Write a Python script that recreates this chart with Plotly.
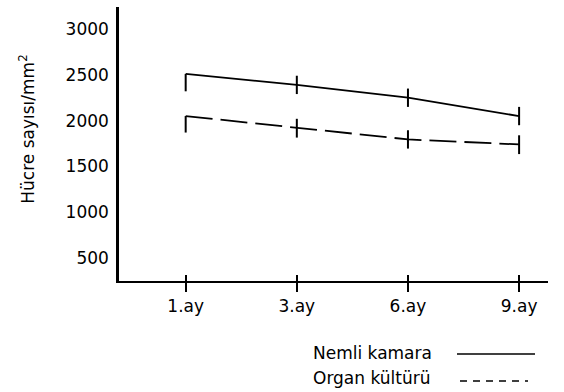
import plotly.graph_objects as go

months = ["1.ay", "3.ay", "6.ay", "9.ay"]
nemli = [2510, 2390, 2250, 2050]
nemli_plus = [0, 100, 100, 100]
nemli_minus = [190, 100, 100, 100]
organ = [2050, 1920, 1795, 1740]
organ_plus = [0, 100, 100, 100]
organ_minus = [180, 105, 100, 105]
y_ticks = [500, 1000, 1500, 2000, 2500, 3000]

FONT = "DejaVu Sans"
FS = 17
fig = go.Figure()
fig.add_trace(go.Scatter(
    x=months, y=nemli, mode="lines", name="Nemli kamara",
    line=dict(color="black", width=1.8),
    error_y=dict(type="data", symmetric=False, array=nemli_plus,
                 arrayminus=nemli_minus, color="black", thickness=2, width=0),
))
fig.add_trace(go.Scatter(
    x=months, y=organ, mode="lines", name="Organ kültürü",
    line=dict(color="black", width=1.8, dash="27px,8px"),
    error_y=dict(type="data", symmetric=False, array=organ_plus,
                 arrayminus=organ_minus, color="black", thickness=2, width=0),
))

fig.update_layout(
    width=564, height=392,
    margin=dict(l=119, r=16, t=7, b=111),
    paper_bgcolor="white", plot_bgcolor="white",
    showlegend=False,
    font=dict(family=FONT, size=FS, color="black"),
    xaxis=dict(
        type="category", range=[-0.6, 3.26],
        showline=True, linecolor="black", linewidth=2,
        ticks="outside", ticklen=9, tickwidth=2, tickcolor="black",
        showgrid=False, zeroline=False,
        tickfont=dict(family=FONT, size=FS),
    ),
    xaxis2=dict(
        type="category", range=[-0.6, 3.26], overlaying="x", matches="x",
        ticks="inside", ticklen=6, tickwidth=2, tickcolor="black",
        showticklabels=False, showgrid=False, showline=False, zeroline=False,
        anchor="y",
    ),
    yaxis=dict(
        range=[250, 3240], tickvals=y_ticks,
        showline=True, linecolor="black", linewidth=2.5,
        ticks="", showgrid=False, zeroline=False,
        tickfont=dict(family=FONT, size=FS),
        ticklabelstandoff=4,
    ),
)
# invisible trace to draw inside ticks on xaxis2
fig.add_trace(go.Scatter(x=months, y=[None]*4, xaxis="x2", yaxis="y",
                         mode="lines", showlegend=False, hoverinfo="skip"))

fig.add_annotation(
    text="Hücre sayısı/mm<sup>2</sup>", textangle=-90,
    xref="paper", yref="paper", x=-0.215, y=0.555,
    xanchor="center", yanchor="middle", showarrow=False,
    font=dict(family=FONT, size=FS),
)
# legend (text left, line sample right)
legend_items = [("Nemli kamara", "solid", 457, 535),
                ("Organ kültürü", "7px,6px", 460, 528)]
for i, (label, dash, x0, x1) in enumerate(legend_items):
    fig.add_annotation(text=label, xref="paper", yref="paper",
                       x=(311 - 119) / 429, y=-(353 + 25 * i - 281) / 274,
                       xanchor="left", yanchor="middle", showarrow=False,
                       font=dict(family=FONT, size=FS))
    ly = -(354 + 27 * i - 281) / 274
    fig.add_shape(type="line", xref="paper", yref="paper",
                  x0=(x0 - 119) / 429, x1=(x1 - 119) / 429, y0=ly, y1=ly,
                  line=dict(color="black", width=1.6, dash=dash))

fig.write_html("out.html", config={"displayModeBar": False},
               post_script="document.body.style.margin='0';document.body.style.padding='0';")
